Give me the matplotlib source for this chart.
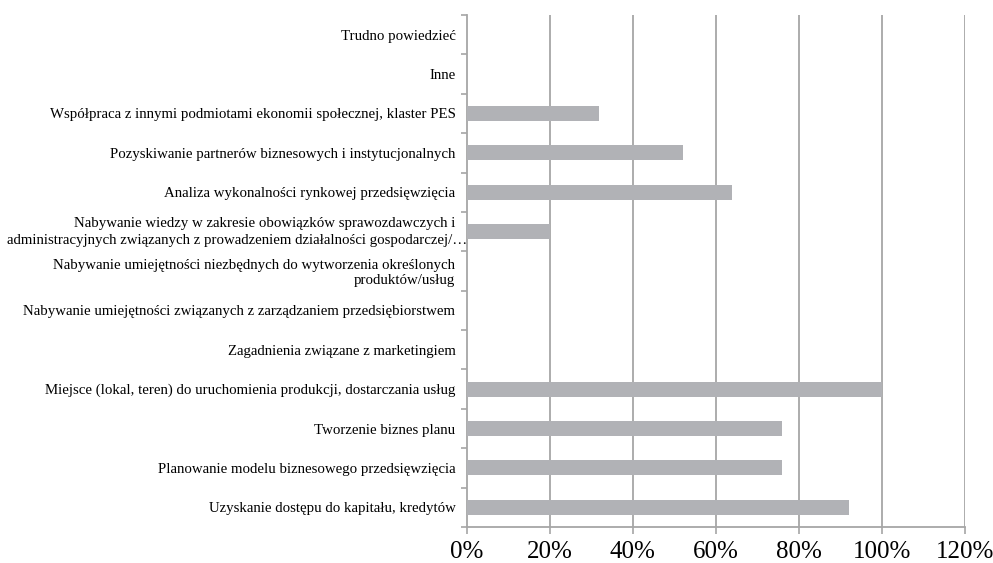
import matplotlib
matplotlib.use("Agg")
import matplotlib.pyplot as plt
import numpy as np
from matplotlib.ticker import FuncFormatter
from matplotlib.transforms import offset_copy

categories = [
    "Uzyskanie dostępu do kapitału, kredytów",
    "Planowanie modelu biznesowego przedsięwzięcia",
    "Tworzenie biznes planu",
    "Miejsce (lokal, teren) do uruchomienia produkcji, dostarczania usług",
    "Zagadnienia związane z marketingiem",
    "Nabywanie umiejętności związanych z zarządzaniem przedsiębiorstwem",
    "Nabywanie umiejętności niezbędnych do wytworzenia określonych\nproduktów/usług",
    "Nabywanie wiedzy w zakresie obowiązków sprawozdawczych i\nadministracyjnych związanych z prowadzeniem działalności gospodarczej/…",
    "Analiza wykonalności rynkowej przedsięwzięcia",
    "Pozyskiwanie partnerów biznesowych i instytucjonalnych",
    "Współpraca z innymi podmiotami ekonomii społecznej, klaster PES",
    "Inne",
    "Trudno powiedzieć",
]
values = [0.92, 0.76, 0.76, 1.00, 0.0, 0.0, 0.0, 0.20, 0.64, 0.52, 0.32, 0.0, 0.0]
xticks = [0, 0.2, 0.4, 0.6, 0.8, 1.0, 1.2]

plt.rcParams['font.family'] = ['Liberation Serif', 'DejaVu Serif']
FS = 10.7

fig = plt.figure(figsize=(9.93, 5.63), dpi=100)
ax = fig.add_axes([466.5/993, 1 - 527/563, (965 - 466.5)/993, (527 - 15)/563])

y = np.arange(len(categories))
ax.barh(y, values, height=0.38, color="#b1b2b6", zorder=3)

ax.set_xlim(0, 1.2)
ax.set_ylim(-0.5, len(categories) - 0.5)
ax.set_xticks(xticks)
ax.xaxis.set_major_formatter(FuncFormatter(lambda v, p: f"{int(round(v*100))}%"))
ax.tick_params(axis='x', labelsize=18, length=5, color="#a6a6a6", width=1.2, pad=5)
for xv in xticks[1:]:
    ax.axvline(xv, color="#a6a6a6", lw=1.3, zorder=1)

# Tick labels; the overflowing two-line label is drawn line by line
long_idx = 7
labels = [c if i != long_idx else "" for i, c in enumerate(categories)]
ax.set_yticks(y)
ax.set_yticklabels(labels, fontsize=FS, linespacing=1.15)
ax.tick_params(axis='y', length=0, pad=8)
ax.set_yticks(np.arange(-0.5, len(categories), 1.0), minor=True)
ax.tick_params(axis='y', which='minor', length=4, color="#a6a6a6", width=1.2)

line1, line2 = categories[long_idx].split("\n")
trans = ax.get_yaxis_transform()
t1 = offset_copy(trans, fig=fig, x=-11.5, y=0, units='dots')
t2 = offset_copy(trans, fig=fig, x=0.5, y=0, units='dots')
ax.text(0, y[long_idx] + 0.2, line1, transform=t1, ha='right', va='center',
        fontsize=FS, clip_on=False)
ax.text(0, y[long_idx] - 0.23, line2, transform=t2, ha='right', va='center',
        fontsize=FS, clip_on=False, zorder=5)

for s in ['top', 'right']:
    ax.spines[s].set_visible(False)
for s in ['left', 'bottom']:
    ax.spines[s].set_color("#a6a6a6")
    ax.spines[s].set_linewidth(1.3)

fig.savefig("out.png", dpi=100)
